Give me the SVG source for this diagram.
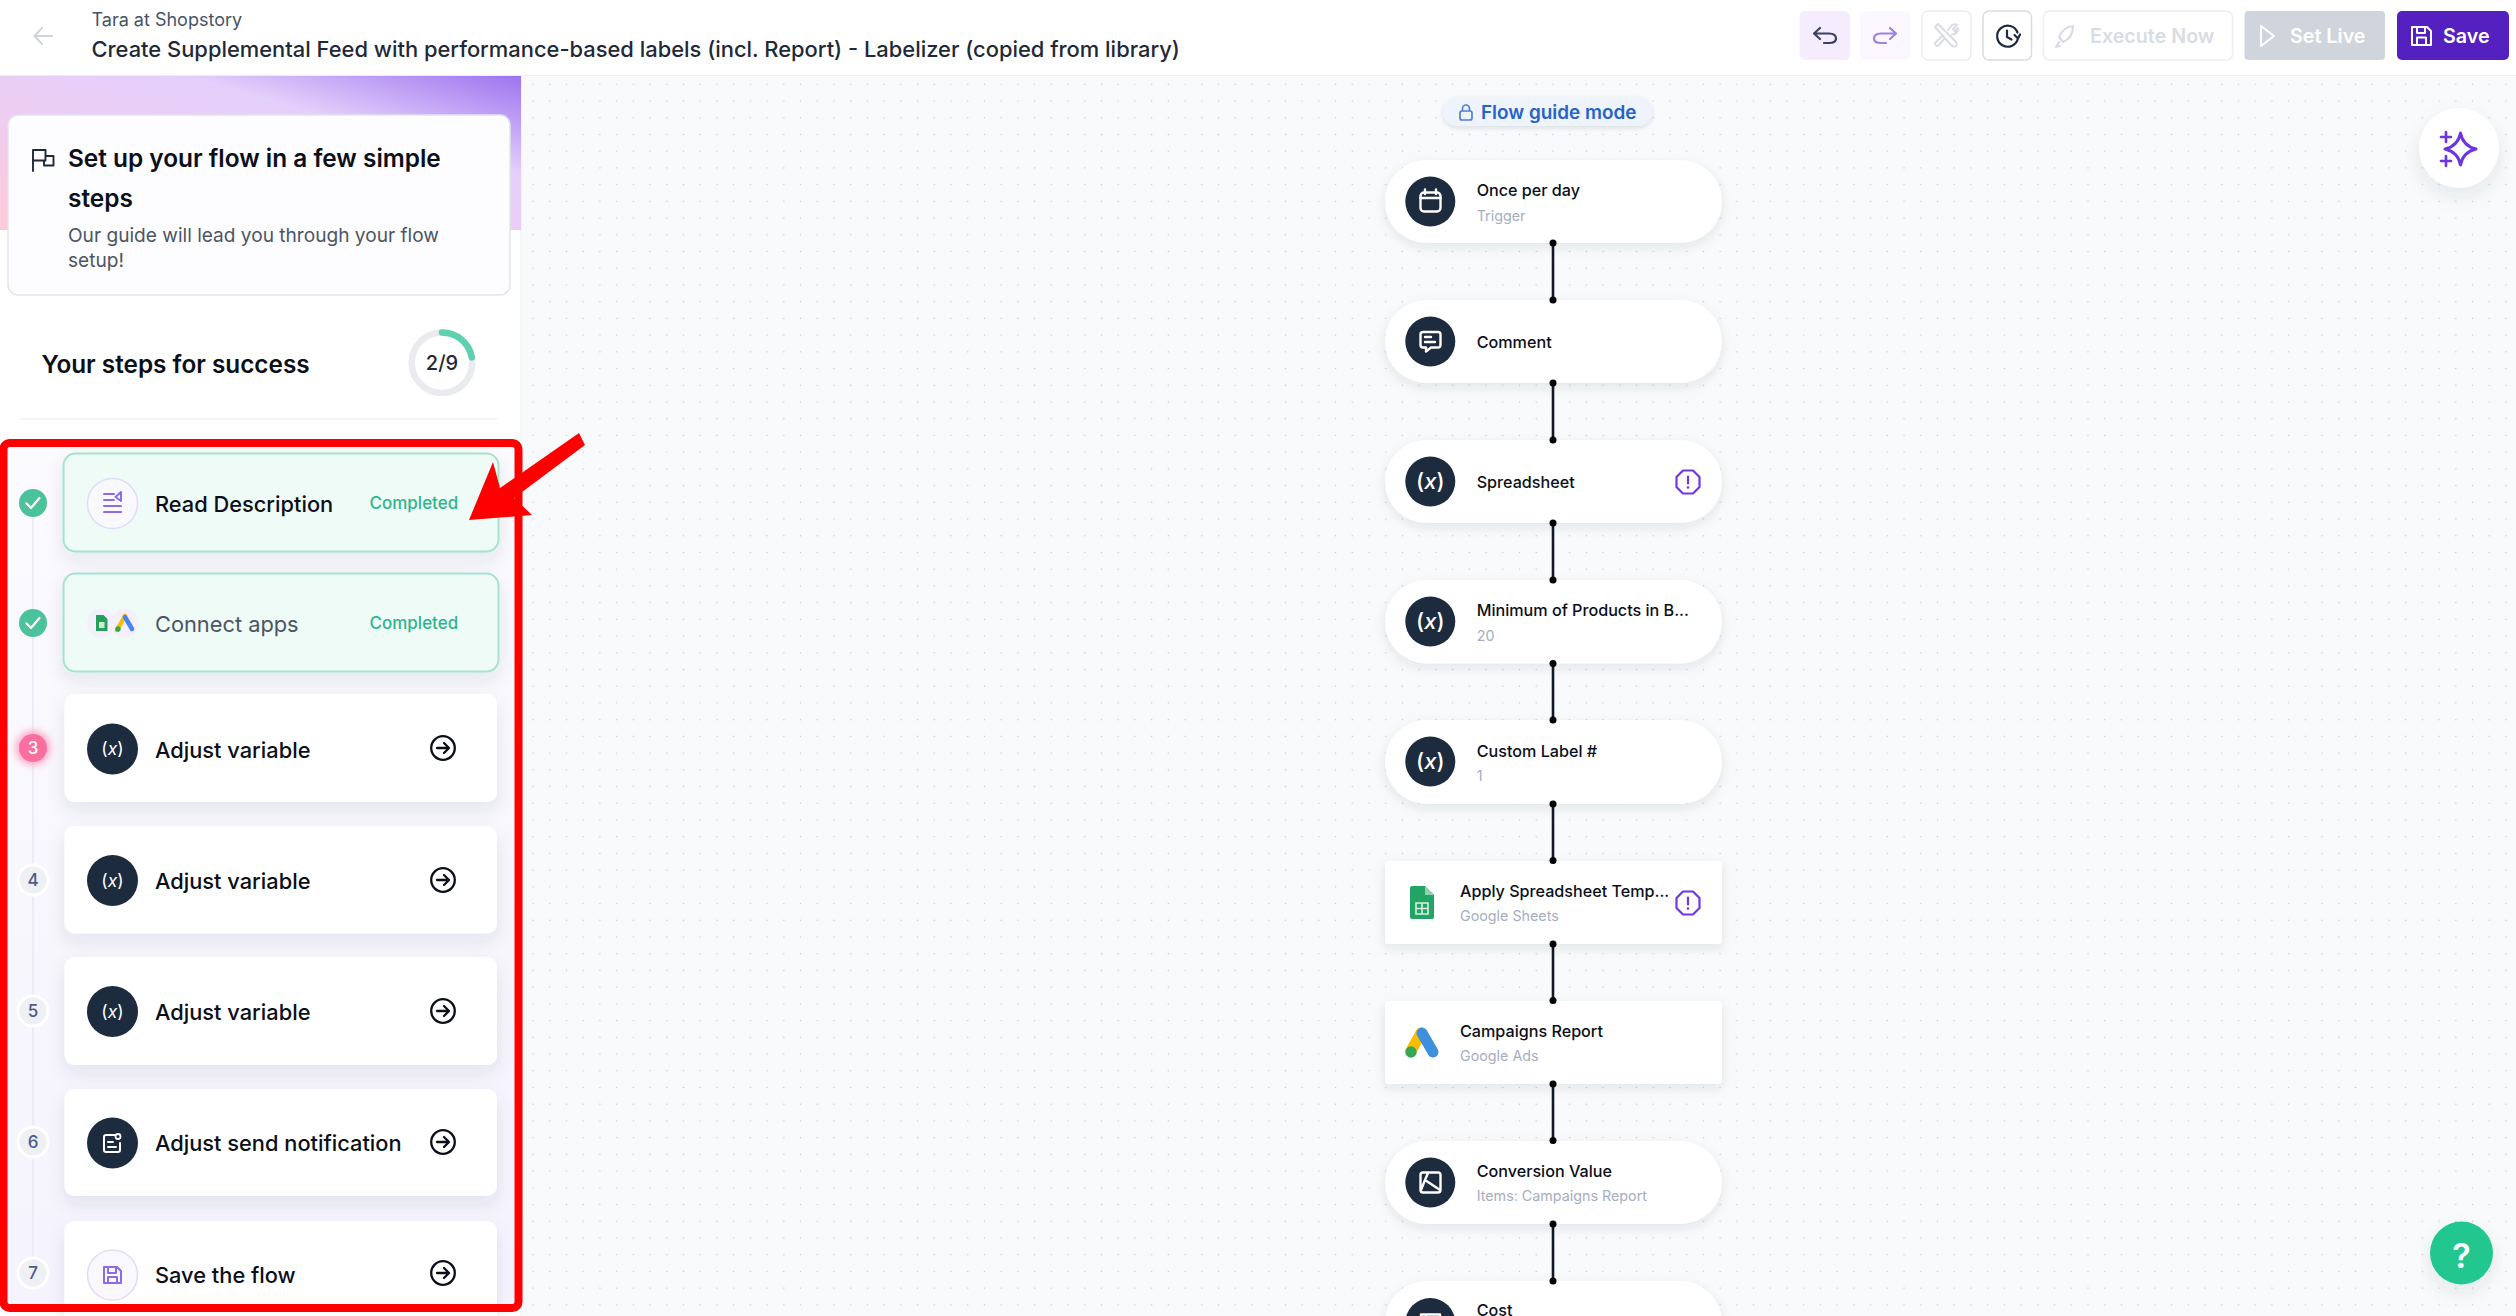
<svg xmlns="http://www.w3.org/2000/svg" width="2516" height="1316" viewBox="0 0 2516 1316">
<style>
text{font-family:Inter,"Liberation Sans",sans-serif}
.hd1{font-size:18px;fill:#475467}
.hd2{font-size:21.9px;font-weight:500;fill:#1f2937}
.t1{font-size:24.4px;font-weight:600;fill:#0b0f19}
.t2{font-size:19.1px;fill:#4b5563}
.t3{font-size:24.3px;font-weight:600;fill:#0b0f19}
.lb{font-size:21.8px;font-weight:500;fill:#0b0f19}
.done{font-size:17px;font-weight:500;fill:#2fb58c}
.num{font-size:17px;font-weight:500;fill:#4d5a8c;text-anchor:middle}
.nt{font-size:16.15px;font-weight:500;fill:#0b0f19}
.ns{font-size:14.3px;fill:#a6aec0}
.fx{font-size:22px;font-weight:500;fill:#fff;text-anchor:middle}
.fxs{font-size:17.5px;font-weight:400;fill:#fff;text-anchor:middle}
.card{fill:#fff;filter:url(#sh)}
.gcard{fill:#effbf7;stroke:#a6e3cd;stroke-width:2;filter:url(#sh)}
.node{fill:#fff;filter:url(#nsh)}
.ic{fill:#1d2b3e}
.wl{fill:none;stroke:#fff;stroke-width:2.4;stroke-linecap:round;stroke-linejoin:round}
.pl{fill:none;stroke:#8a6be8;stroke-width:2;stroke-linecap:round;stroke-linejoin:round}
.numc{fill:#eef0f4;stroke:#fff;stroke-width:3}
.btn{stroke:#eceef2;stroke-width:1.5;fill:#fff}
.tb{font-size:19.7px;font-weight:600}
.conn line{stroke:#111827;stroke-width:2.6}
.conn circle{fill:#000}
</style>
<defs>
<pattern id="dots" patternUnits="userSpaceOnUse" x="1343.94" y="75.94" width="16.72" height="16.72"><circle cx="8.36" cy="8.36" r="0.8" fill="#c6cbd3"/></pattern>
<linearGradient id="top" x1="0" y1="1" x2="1" y2="0"><stop offset="0" stop-color="#ffcbd8"/><stop offset=".35" stop-color="#efcdf0"/><stop offset=".68" stop-color="#e4d0fb"/><stop offset="1" stop-color="#9d74ef"/></linearGradient>
<linearGradient id="lav" x1="0" y1="0" x2="0" y2="1"><stop offset="0" stop-color="#fbfbfe"/><stop offset="1" stop-color="#f5f3fd"/></linearGradient>
<filter id="sh" x="-15%" y="-30%" width="130%" height="170%"><feDropShadow dx="0" dy="8" stdDeviation="9" flood-color="#1d2b3e" flood-opacity=".09"/></filter>
<filter id="nsh" x="-15%" y="-30%" width="130%" height="170%"><feDropShadow dx="0" dy="4" stdDeviation="6" flood-color="#1d2b3e" flood-opacity=".1"/></filter>
<filter id="soft" x="-30%" y="-50%" width="160%" height="220%"><feDropShadow dx="0" dy="2" stdDeviation="2.5" flood-color="#1d2b3e" flood-opacity=".13"/></filter>
<filter id="glow" x="-80%" y="-80%" width="260%" height="260%"><feGaussianBlur stdDeviation="3"/></filter>
<g id="go"><circle r="11.8" fill="none" stroke="#0b0f19" stroke-width="2.3"/><path d="M-6 0H5.500M1 -5L6 0L1 5" fill="none" stroke="#0b0f19" stroke-width="2.3" stroke-linecap="round" stroke-linejoin="round"/></g>
<g id="warn"><path d="M-5 -11.5H5L11.5 -5V5L5 11.5H-5L-11.5 5V-5Z" fill="none" stroke="#7436e2" stroke-width="2.2" stroke-linejoin="round"/><path d="M0 -5.5V1.5" stroke="#7436e2" stroke-width="2.2" stroke-linecap="round"/><circle cy="5.5" r="1.3" fill="#7436e2"/></g>
<g id="tick"><circle r="14" fill="#4cc29b"/><path d="M-6.5 0.5L-2 5L6.5 -5" fill="none" stroke="#fff" stroke-width="2.2" stroke-linecap="round" stroke-linejoin="round"/></g>
</defs>

<rect width="2516" height="1316" fill="#fff"/>
<rect x="521" y="76" width="1995" height="1240" fill="#f9fafc"/>
<rect x="521" y="76" width="1995" height="1240" fill="url(#dots)"/>
<line x1="0" y1="75.5" x2="2516" y2="75.5" stroke="#e9edf1" stroke-width="1"/>
<line x1="521" y1="76" x2="521" y2="1316" stroke="#eceff3" stroke-width="1"/>

<g id="header">
<path d="M52 36H35M42 28L34.5 36L42 44" fill="none" stroke="#d0d5dd" stroke-width="2.2" stroke-linecap="round" stroke-linejoin="round"/>
<text class="hd1" x="91.5" y="25.5">Tara at Shopstory</text>
<text class="hd2" x="91.5" y="56.5">Create Supplemental Feed with performance-based labels (incl. Report) - Labelizer (copied from library)</text>
</g>

<g id="toolbar">
<rect x="1799.5" y="11" width="50.5" height="49" rx="6" fill="#f5edfd"/>
<path d="M1820 28L1814 33.5L1820 39M1814 33.5H1829Q1836 33.5 1836 38.5Q1836 43 1829 43H1824" fill="none" stroke="#3c3f66" stroke-width="2.2" stroke-linecap="round" stroke-linejoin="round"/>
<rect x="1860" y="11" width="50" height="49" rx="6" fill="#fbf7fe"/>
<path d="M1890 28L1896 33.5L1890 39M1896 33.5H1881Q1874 33.5 1874 38.5Q1874 43 1881 43H1886" fill="none" stroke="#a07fe8" stroke-width="2.2" stroke-linecap="round" stroke-linejoin="round"/>
<rect class="btn" x="1922" y="11" width="49" height="49" rx="6"/>
<path d="M1935 27L1938 24L1956 42Q1958 45 1955 46.5Q1953 47 1951 45ZM1948 30L1952 25Q1955 23.500 1957 25L1953 29L1955 31.500L1958 28Q1958 32 1955 34L1952 34.500M1945 38L1939 45Q1937 47 1935.500 45Q1934.500 43 1936 42L1942 36" fill="none" stroke="#d9dce3" stroke-width="2" stroke-linecap="round" stroke-linejoin="round"/>
<rect x="1983" y="11" width="48.5" height="49" rx="6" fill="#fff" stroke="#d9dce2" stroke-width="1.5"/>
<path d="M2018 38A10.5 10.5 0 1 1 2017.500 32.500M2007 30.500V37L2011.500 39.500M2014.500 35L2018 38.500L2020 34.500" fill="none" stroke="#1d2b3e" stroke-width="2.2" stroke-linecap="round" stroke-linejoin="round"/>
<rect class="btn" x="2043.5" y="11" width="189" height="49" rx="6"/>
<path d="M2073 26Q2063 27 2059 37L2063 42Q2073 38 2073 26ZM2059 42L2056 47L2060 46" fill="none" stroke="#d9dce3" stroke-width="2.2" stroke-linejoin="round" stroke-linecap="round"/>
<text class="tb" x="2090" y="43" fill="#d8dce3">Execute Now</text>
<rect x="2244.5" y="11" width="140.5" height="49" rx="4" fill="#d0d5dd"/>
<path d="M2261 26L2274 36L2261 46Z" fill="none" stroke="#fff" stroke-width="2" stroke-linejoin="round"/>
<text class="tb" x="2290" y="43" fill="#fff">Set Live</text>
<rect x="2397" y="11" width="112" height="49" rx="5" fill="#5420c0"/>
<path d="M2412 27H2427L2431 31V45H2412ZM2417 27V33H2425V27M2417 45V37.5H2426V45" fill="none" stroke="#fff" stroke-width="2" stroke-linejoin="round"/>
<text class="tb" x="2443" y="43" fill="#fff">Save</text>
</g>

<g id="ai-button">
<circle cx="2459" cy="148" r="40" fill="#fff" filter="url(#sh)"/>
<path d="M2460.5 133Q2463 146 2476 149Q2463 152 2460.5 165Q2458 152 2445 149Q2458 146 2460.5 133Z" fill="none" stroke="#6d35e0" stroke-width="3" stroke-linejoin="round"/>
<path d="M2446 132V142M2441 137H2451M2446 156V166M2441 161H2451" stroke="#6d35e0" stroke-width="2.6" stroke-linecap="round"/>
</g>

<g id="help-button">
<circle cx="2461.5" cy="1253" r="31.5" fill="#21c78f" filter="url(#sh)"/>
<text x="2461.5" y="1268" font-size="34" font-weight="600" fill="#fff" text-anchor="middle">?</text>
</g>

<g id="sidebar-top">
<rect x="0" y="76" width="521" height="154" fill="url(#top)"/>
<rect x="8" y="115" width="502" height="180" rx="10" fill="#fdfcfe" stroke="#e3e4ea" stroke-width="1.5"/>
<path d="M33 171V150H45.500V156H53.500V165.500H44V160.500H33M45.500 156V160.500H44" fill="none" stroke="#1f2937" stroke-width="1.9" stroke-linejoin="round" stroke-linecap="round"/>
<text class="t1" x="68" y="166.5">Set up your flow in a few simple</text>
<text class="t1" x="68" y="206.5">steps</text>
<text class="t2" x="68" y="242">Our guide will lead you through your flow</text>
<text class="t2" x="68" y="267">setup!</text>
<text class="t3" x="41.5" y="372.5">Your steps for success</text>
<circle cx="442" cy="362.7" r="30.3" fill="none" stroke="#e9ebef" stroke-width="6.5"/>
<path d="M442 332.4A30.3 30.3 0 0 1 471.8 357.4" fill="none" stroke="#5ed0ad" stroke-width="6.5" stroke-linecap="round"/>
<text x="442" y="370" font-size="20" font-weight="500" fill="#1f2937" text-anchor="middle">2/9</text>
<line x1="19" y1="419" x2="497" y2="419" stroke="#eef0f3" stroke-width="1.5"/>
</g>

<g id="steps">
<rect x="7" y="447" width="507" height="857" fill="url(#lav)"/>
<line x1="33" y1="503" x2="33" y2="1273" stroke="#e8e8f3" stroke-width="1.5"/>

<g id="step-1">
<use href="#tick" x="33" y="503"/>
<rect class="gcard" x="63.5" y="453.5" width="435" height="98" rx="12"/>
<circle cx="112.5" cy="503.5" r="25" fill="#faf8ff" stroke="#e3dcf3" stroke-width="1.5"/>
<path class="pl" d="M104 496H114M104 502H114M104 508H121M104 514H121M121 494L115.5 499L121 503Z" transform="translate(0 -2)"/>
<text class="lb" x="155" y="512">Read Description</text>
<text class="done" x="369.5" y="508.5">Completed</text>
</g>

<g id="step-2">
<use href="#tick" x="33" y="623"/>
<rect class="gcard" x="63.5" y="573.5" width="435" height="98" rx="12"/>
<ellipse cx="101" cy="623" rx="14" ry="14.5" fill="#f4effb"/>
<ellipse cx="124.5" cy="623" rx="14" ry="14.5" fill="#f4effb"/>
<path d="M96 615H103.5L107.5 619V631H96Z" fill="#24a05a"/><rect x="99" y="622" width="5.5" height="6" fill="#cfe9d9"/>
<path d="M125 616L117 630" stroke="#fbbc04" stroke-width="4.5" stroke-linecap="round"/>
<path d="M125 617L132 629" stroke="#4285f4" stroke-width="4.5" stroke-linecap="round"/>
<circle cx="118" cy="629" r="2.7" fill="#34a853"/>
<text class="lb" x="155" y="631.5" style="fill:#4b5563;font-weight:400">Connect apps</text>
<text class="done" x="369.5" y="629">Completed</text>
</g>

<g id="step-3">
<circle cx="33" cy="748" r="18" fill="#ff9dbd" opacity=".75" filter="url(#glow)"/>
<circle cx="33" cy="748" r="14" fill="#fb6f9f"/>
<text class="num" x="33" y="754" style="fill:#fff">3</text>
<rect class="card" x="64.5" y="694" width="432.5" height="108" rx="10"/>
<circle class="ic" cx="112.5" cy="749" r="25.5"/>
<text class="fxs" x="112.5" y="755">(<tspan font-style="italic">x</tspan>)</text>
<text class="lb" x="155" y="757.500">Adjust variable</text>
<use href="#go" x="443" y="748"/>
</g>

<g id="step-4">
<circle class="numc" cx="33" cy="880" r="15"/>
<text class="num" x="33" y="886">4</text>
<rect class="card" x="64.5" y="826" width="432.5" height="107.5" rx="10"/>
<circle class="ic" cx="112.5" cy="880.5" r="25.5"/>
<text class="fxs" x="112.5" y="886.5">(<tspan font-style="italic">x</tspan>)</text>
<text class="lb" x="155" y="888.500">Adjust variable</text>
<use href="#go" x="443" y="880"/>
</g>

<g id="step-5">
<circle class="numc" cx="33" cy="1011" r="15"/>
<text class="num" x="33" y="1017">5</text>
<rect class="card" x="64.5" y="957" width="432.5" height="108" rx="10"/>
<circle class="ic" cx="112.5" cy="1011.5" r="25.5"/>
<text class="fxs" x="112.5" y="1017.5">(<tspan font-style="italic">x</tspan>)</text>
<text class="lb" x="155" y="1019.500">Adjust variable</text>
<use href="#go" x="443" y="1011"/>
</g>

<g id="step-6">
<circle class="numc" cx="33" cy="1142" r="15"/>
<text class="num" x="33" y="1148">6</text>
<rect class="card" x="64.5" y="1089" width="432.5" height="107" rx="10"/>
<circle class="ic" cx="112.5" cy="1143" r="25.5"/>
<path d="M115 1135H106Q104 1135 104 1137V1150Q104 1152 106 1152H118Q120 1152 120 1150V1143M108 1142H113M108 1147H116" fill="none" stroke="#fff" stroke-width="2" stroke-linecap="round" stroke-linejoin="round"/>
<circle cx="118" cy="1136.5" r="2.5" fill="none" stroke="#fff" stroke-width="1.8"/>
<text class="lb" x="155" y="1151">Adjust send notification</text>
<use href="#go" x="443" y="1142"/>
</g>

<g id="step-7">
<circle class="numc" cx="33" cy="1273" r="15"/>
<text class="num" x="33" y="1279">7</text>
<rect class="card" x="64.5" y="1221" width="432.5" height="110" rx="10"/>
<circle cx="112.5" cy="1275" r="25" fill="#faf8ff" stroke="#e3dcf3" stroke-width="1.5"/>
<path class="pl" d="M104 1267H117L121 1271V1283H104ZM108 1267V1273H116V1267M108 1283V1277H117V1283"/>
<text class="lb" x="155" y="1282.500">Save the flow</text>
<use href="#go" x="443" y="1273"/>
</g>
</g>

<g id="highlight">
<rect x="3.5" y="443" width="515" height="865" rx="6" fill="none" stroke="#fe0000" stroke-width="8"/>
<path d="M579 433L585 445L514 498L532 515L469 520L493 462L500 488Z" fill="#fe0000"/>
</g>

<g id="flow-guide">
<rect x="1443" y="97" width="209" height="29" rx="14.5" fill="#eff3fc" filter="url(#soft)"/>
<rect x="1460" y="111" width="12" height="9" rx="2" fill="none" stroke="#4f7fd6" stroke-width="1.7"/>
<path d="M1462.500 111V108.500A3.500 3.500 0 0 1 1469.500 108.500V111" fill="none" stroke="#4f7fd6" stroke-width="1.7"/>
<text x="1481" y="119" font-size="18.9" font-weight="600" fill="#2563c9">Flow guide mode</text>
</g>

<g id="node-once-per-day">
<rect class="node" x="1385" y="160" width="337" height="83" rx="41.5"/>
<circle class="ic" cx="1430.3" cy="201.5" r="25"/>
<rect class="wl" x="1420.5" y="192.5" width="20" height="19" rx="3.5"/><path class="wl" d="M1420.5 198H1440.5M1425 189.500V194M1436 189.500V194" stroke-width="2"/>
<text class="nt" x="1476.7" y="196">Once per day</text>
<text class="ns" x="1476.7" y="220.5">Trigger</text>
</g>

<g id="node-comment">
<rect class="node" x="1385" y="300" width="337" height="83" rx="41.5"/>
<circle class="ic" cx="1430.3" cy="341.5" r="25"/>
<path class="wl" d="M1423 333H1438Q1440.500 333 1440.500 335.500V346Q1440.500 348.500 1438 348.500H1431L1426 352.500V348.500H1423Q1420.500 348.500 1420.500 346V335.500Q1420.500 333 1423 333ZM1425 338H1431M1425 343H1435" transform="translate(0 -1)"/>
<text class="nt" x="1476.7" y="348">Comment</text>
</g>

<g id="node-spreadsheet">
<rect class="node" x="1385" y="440" width="337" height="83" rx="41.5"/>
<circle class="ic" cx="1430.3" cy="481.5" r="25"/>
<text class="fx" x="1430.3" y="489">(<tspan font-style="italic">x</tspan>)</text>
<text class="nt" x="1476.7" y="488">Spreadsheet</text>
<use href="#warn" x="1688" y="482"/>
</g>

<g id="node-minimum">
<rect class="node" x="1385" y="580" width="337" height="83.5" rx="41.7"/>
<circle class="ic" cx="1430.3" cy="621.5" r="25"/>
<text class="fx" x="1430.3" y="629">(<tspan font-style="italic">x</tspan>)</text>
<text class="nt" x="1476.7" y="616">Minimum of Products in B...</text>
<text class="ns" x="1476.7" y="641">20</text>
</g>

<g id="node-custom-label">
<rect class="node" x="1385" y="720" width="337" height="84" rx="42"/>
<circle class="ic" cx="1430.3" cy="761.5" r="25"/>
<text class="fx" x="1430.3" y="769">(<tspan font-style="italic">x</tspan>)</text>
<text class="nt" x="1476.7" y="757">Custom Label #</text>
<text class="ns" x="1476.7" y="781">1</text>
</g>

<g id="node-apply-template">
<rect class="node" x="1385" y="861" width="337" height="83" rx="4"/>
<path d="M1412 886H1425L1434 895V917Q1434 919 1432 919H1412Q1410 919 1410 917V888Q1410 886 1412 886Z" fill="#21a464"/>
<path d="M1425 886L1434 895H1425Z" fill="#8ed1ae"/>
<path d="M1416 903H1428V914H1416ZM1416 908.500H1428M1422 903V914" fill="none" stroke="#d7f0e2" stroke-width="1.6"/>
<text class="nt" x="1460" y="897">Apply Spreadsheet Temp...</text>
<text class="ns" x="1460" y="921">Google Sheets</text>
<use href="#warn" x="1688" y="903"/>
</g>

<g id="node-campaigns-report">
<rect class="node" x="1385" y="1001" width="337" height="83" rx="4"/>
<path d="M1421 1033L1411 1051" stroke="#fbbc04" stroke-width="11" stroke-linecap="round"/>
<path d="M1422 1033L1433 1052" stroke="#3f8fdf" stroke-width="11" stroke-linecap="round"/>
<circle cx="1411" cy="1052" r="5.7" fill="#34a853"/>
<text class="nt" x="1460" y="1037">Campaigns Report</text>
<text class="ns" x="1460" y="1061">Google Ads</text>
</g>

<g id="node-conversion-value">
<rect class="node" x="1385" y="1141" width="337" height="83" rx="41.5"/>
<circle class="ic" cx="1430.3" cy="1182.5" r="25"/>
<path class="wl" d="M1423 1172.500H1438Q1440.500 1172.500 1440.500 1175V1190Q1440.500 1192.500 1438 1192.500H1423Q1420.500 1192.500 1420.500 1190V1175Q1420.500 1172.500 1423 1172.500ZM1428 1173L1425 1180L1440 1190M1425 1180L1421 1190"/>
<text class="nt" x="1476.7" y="1177">Conversion Value</text>
<text class="ns" x="1476.7" y="1201">Items: Campaigns Report</text>
</g>

<g id="node-cost">
<rect class="node" x="1385" y="1281" width="337" height="83" rx="41.5"/>
<circle class="ic" cx="1430.3" cy="1323" r="25"/>
<path class="wl" d="M1421 1316V1314.500H1440V1316M1426 1316V1314.500"/>
<text class="nt" x="1476.7" y="1316">Cost</text>
</g>

<g id="connectors" class="conn">
<line x1="1553" y1="243" x2="1553" y2="300"/><circle cx="1553" cy="243" r="3.5"/><circle cx="1553" cy="300" r="3.5"/>
<line x1="1553" y1="383" x2="1553" y2="440"/><circle cx="1553" cy="383" r="3.5"/><circle cx="1553" cy="440" r="3.5"/>
<line x1="1553" y1="523" x2="1553" y2="580"/><circle cx="1553" cy="523" r="3.5"/><circle cx="1553" cy="580" r="3.5"/>
<line x1="1553" y1="663.5" x2="1553" y2="720"/><circle cx="1553" cy="663.5" r="3.5"/><circle cx="1553" cy="720" r="3.5"/>
<line x1="1553" y1="804" x2="1553" y2="860.5"/><circle cx="1553" cy="804" r="3.5"/><circle cx="1553" cy="860.5" r="3.5"/>
<line x1="1553" y1="944" x2="1553" y2="1000.5"/><circle cx="1553" cy="944" r="3.5"/><circle cx="1553" cy="1000.5" r="3.5"/>
<line x1="1553" y1="1084" x2="1553" y2="1140.5"/><circle cx="1553" cy="1084" r="3.5"/><circle cx="1553" cy="1140.5" r="3.5"/>
<line x1="1553" y1="1224" x2="1553" y2="1281"/><circle cx="1553" cy="1224" r="3.5"/><circle cx="1553" cy="1281" r="3.5"/>
</g>
</svg>
